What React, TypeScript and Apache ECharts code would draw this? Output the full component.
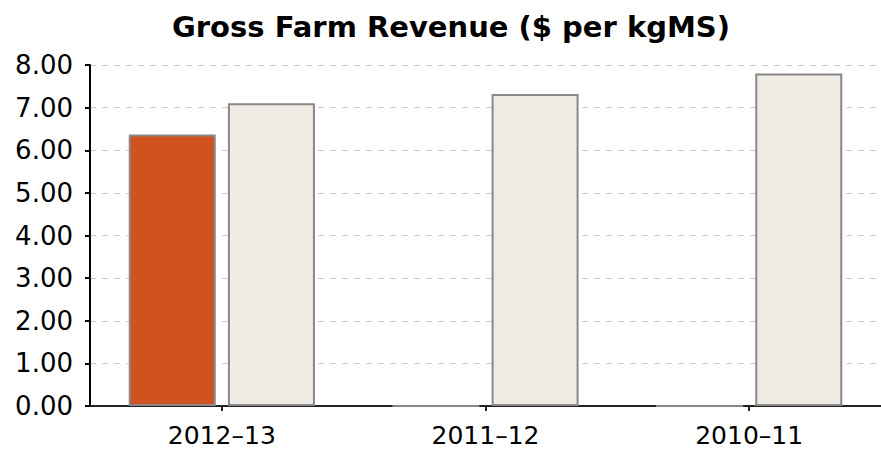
import React, { useEffect, useRef } from "react";
import * as echarts from "echarts";

const categories = ["2012–13", "2011–12", "2010–11"];
const seriesA = [6.37, 0, 0];
const seriesB = [7.1, 7.32, 7.8];
const yTicks = [0, 1, 2, 3, 4, 5, 6, 7, 8];

export default function App() {
  const ref = useRef<HTMLDivElement>(null);
  useEffect(() => {
    document.body.style.margin = "0";
    const chart = echarts.init(ref.current!, null, { renderer: "svg" });
    chart.setOption({
      animation: false,
      title: {
        text: "Gross Farm Revenue ($ per kgMS)",
        left: 446,
        textAlign: "center",
        top: 7,
        textStyle: { fontFamily: "DejaVu Sans", fontWeight: "bold", fontSize: 29, color: "#000" },
      },
      grid: { left: 90, right: -7, top: 65, bottom: 47, containLabel: false },
      xAxis: {
        type: "category",
        data: categories,
        axisLine: { show: true, lineStyle: { color: "#222", width: 2 } },
        axisTick: { show: true, alignWithLabel: true, length: 5, lineStyle: { color: "#222", width: 2 } },
        axisLabel: { fontFamily: "DejaVu Sans", fontSize: 25, color: "#000", margin: 17 },
      },
      yAxis: {
        type: "value",
        min: yTicks[0],
        max: yTicks[yTicks.length - 1],
        interval: 1,
        axisLine: { show: true, lineStyle: { color: "#000", width: 2 } },
        axisTick: { show: true, length: 5, lineStyle: { color: "#000", width: 2 } },
        axisLabel: {
          fontFamily: "DejaVu Sans",
          fontSize: 26,
          color: "#000",
          margin: 17,
          formatter: (v: number) => v.toFixed(2),
        },
        splitLine: { show: true, lineStyle: { color: "#ccc", type: [6, 6], width: 1 } },
      },
      series: [
        {
          type: "bar",
          data: seriesA,
          barWidth: 87,
          barGap: "14%",
          itemStyle: { color: "#d0521e", borderColor: "#888", borderWidth: 2 },
        },
        {
          type: "bar",
          data: seriesB,
          barWidth: 87,
          itemStyle: { color: "#f0ebe5", borderColor: "#888", borderWidth: 2 },
        },
      ],
    });
    return () => chart.dispose();
  }, []);
  return <div ref={ref} style={{ width: 881, height: 453 }} />;
}
